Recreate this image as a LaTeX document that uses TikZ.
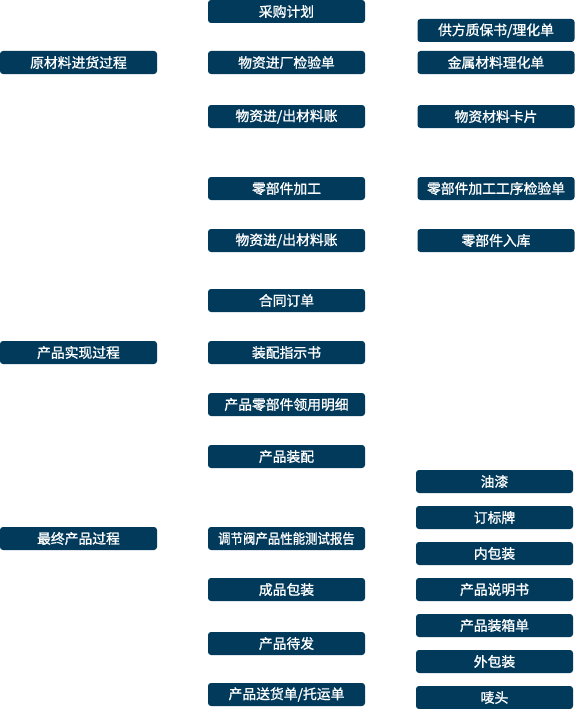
\documentclass[tikz,border=0pt]{standalone}
\usepackage{fontspec}
\setmainfont[FakeBold=1.2]{Noto Sans CJK SC}
\usepackage{xcolor}
\usepackage{graphicx}
\usepackage{tikz}
\usetikzlibrary{positioning}
\definecolor{boxnavy}{RGB}{2,58,92}

\begin{document}
\begin{tikzpicture}[
    x=1pt, y=-1pt,
    cell/.style={fill=boxnavy, rounded corners=3pt, minimum width=157pt, minimum height=23pt,
                 inner sep=0pt, text=white, font=\fontsize{13.8}{15}\selectfont}
]
\useasboundingbox (0,0) rectangle (575,709);

% ---- Stages (left column) ----
\node[cell] (stageA) at (78.5, 62.5)  {原材料进货过程};
\node[cell] (stageB) at (78.5, 352.5) {产品实现过程};
\node[cell] (stageC) at (78.5, 538.5) {最终产品过程};

% ---- Steps (middle column) ----
\node[cell] (stepA1) at (286.5, 11.5)  {采购计划};
\node[cell] (stepA2) at (286.5, 62.5)  {物资进厂检验单};
\node[cell] (stepA3) at (286.5, 116.5) {物资进/出材料账};
\node[cell] (stepB1) at (286.5, 188.5) {零部件加工};
\node[cell] (stepB2) at (286.5, 240.5) {物资进/出材料账};
\node[cell] (stepB3) at (286.5, 300.5) {合同订单};
\node[cell] (stepB4) at (286.5, 352.5) {装配指示书};
\node[cell] (stepB5) at (286.5, 404.5) {产品零部件领用明细};
\node[cell] (stepB6) at (286.5, 456.5) {产品装配};
\node[cell] (stepC1) at (286.5, 538.5) {\scalebox{0.9}[1]{调节阀产品性能测试报告}};
\node[cell] (stepC2) at (286.5, 589.5) {成品包装};
\node[cell] (stepC3) at (286.5, 643.5) {产品待发};
\node[cell] (stepC4) at (286.5, 694.5) {产品送货单/托运单};

% ---- Records (right column) ----
\node[cell] (recA1) at (496, 30.5)  {供方质保书/理化单};
\node[cell] (recA2) at (496, 62.5)  {金属材料理化单};
\node[cell] (recA3) at (496, 116.5) {物资材料卡片};
\node[cell] (recB1) at (496, 188.5) {零部件加工工序检验单};
\node[cell] (recB2) at (496, 240.5) {零部件入库};

% ---- Packing items (right column, bottom) ----
\foreach \name/\y/\txt in {recC1/481.5/油漆, recC2/517.5/订标牌, recC3/553.5/内包装,
                           recC4/589.5/产品说明书, recC5/625.5/产品装箱单,
                           recC6/661.5/外包装, recC7/697.5/唛头}
  { \node[cell] (\name) at (494.5, \y) {\txt}; }

\end{tikzpicture}
\end{document}
